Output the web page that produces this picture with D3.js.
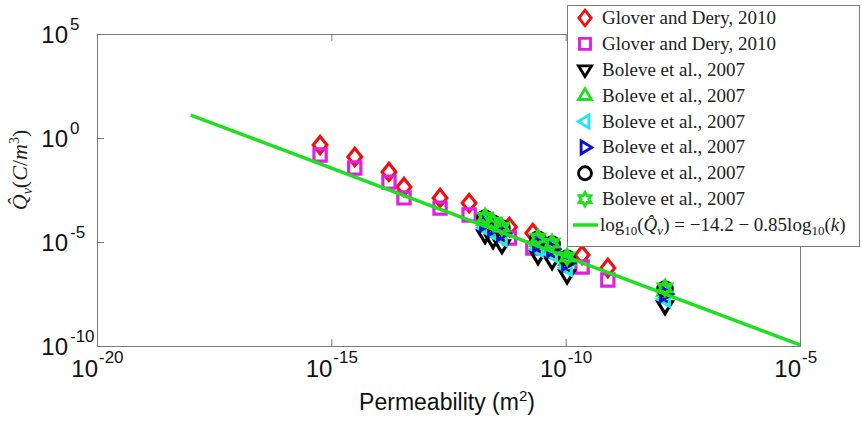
<!DOCTYPE html>
<html>
<head>
<meta charset="utf-8">
<script src="https://cdn.jsdelivr.net/npm/d3@7"></script>
<style>
  body { margin: 0; background: #fff; }
  svg { display: block; }
</style>
</head>
<body>
<div id="graphic"></div>
<script>
// log10 values
var kGlover = [-15.24, -14.5, -13.77, -13.45, -12.68, -12.06, -11.2, -10.7, -9.65, -9.1];
var qGloverDiamond = [-0.34, -0.91, -1.63, -2.36, -2.88, -3.13, -4.28, -4.57, -5.63, -6.25];
var qGloverSquare = [-0.82, -1.44, -2.12, -2.88, -3.37, -3.7, -4.81, -5.29, -6.2, -6.83];

var kBoleve = [-11.72, -11.55, -11.36, -10.59, -10.29, -9.97, -7.88];
var qBoleveDown = [-4.67, -4.91, -5.15, -5.68, -5.92, -6.6, -8.08];
var qBoleveUp = [-3.95, -4.19, -4.43, -4.96, -5.2, -5.87, -7.35];
var qBoleveLeft = [-4.33, -4.57, -4.81, -5.34, -5.58, -6.25, -7.74];
var qBoleveRight = [-4.1, -4.33, -4.57, -5.1, -5.34, -6.0, -7.5];
var qBoleveCircle = [-3.85, -4.09, -4.33, -4.86, -5.1, -5.77, -7.26];
var qBoleveHex = [-3.8, -4.04, -4.28, -4.81, -5.05, -5.72, -7.21];

// fit: log10(Q) = a + b log10(k)
var fitA = -14.2, fitB = -0.85;
var fitRange = [-18, -5];

var xTicks = [-20, -15, -10, -5];
var yTicks = [5, 0, -5, -10];

var legendLabels = ["Glover and Dery, 2010", "Glover and Dery, 2010",
  "Boleve et al., 2007", "Boleve et al., 2007", "Boleve et al., 2007",
  "Boleve et al., 2007", "Boleve et al., 2007", "Boleve et al., 2007"];

var width = 862, height = 421;
var margin = {left: 97, top: 34, right: 62, bottom: 75};
var sansFont = "'Liberation Sans', Arial, sans-serif";
var serifFont = "'Liberation Serif', 'Times New Roman', serif";

var svg = d3.select("#graphic").append("svg")
  .attr("width", width).attr("height", height);

var x = d3.scaleLog().domain([1e-20, 1e-5]).range([margin.left, width - margin.right]);
var y = d3.scaleLog().domain([1e-10, 1e5]).range([height - margin.bottom, margin.top]);

var axisCol = "#7a7a7a";

// box + inward ticks
function styleAxis(g) {
  g.selectAll("path.domain").attr("stroke", axisCol);
  g.selectAll("line").attr("stroke", axisCol);
  g.selectAll("text").remove();
}
svg.append("g").attr("transform", "translate(0," + y.range()[0] + ")")
  .call(d3.axisBottom(x).tickValues(xTicks.map(d => Math.pow(10, d))).tickSize(-7).tickSizeOuter(0))
  .call(styleAxis);
svg.append("g").attr("transform", "translate(0," + y.range()[1] + ")")
  .call(d3.axisTop(x).tickValues(xTicks.map(d => Math.pow(10, d))).tickSize(-7).tickSizeOuter(0))
  .call(styleAxis);
svg.append("g").attr("transform", "translate(" + x.range()[0] + ",0)")
  .call(d3.axisLeft(y).tickValues(yTicks.map(d => Math.pow(10, d))).tickSize(-7).tickSizeOuter(0))
  .call(styleAxis);
svg.append("g").attr("transform", "translate(" + x.range()[1] + ",0)")
  .call(d3.axisRight(y).tickValues(yTicks.map(d => Math.pow(10, d))).tickSize(-7).tickSizeOuter(0))
  .call(styleAxis);

// tick labels "10^n"
function tickText(px, py, anchor, size, txt) {
  svg.append("text").attr("x", px).attr("y", py).attr("text-anchor", anchor)
    .style("font-family", sansFont).style("font-size", size + "px").style("fill", "#111")
    .text(txt);
}
xTicks.forEach(function(t) {
  var px = x(Math.pow(10, t));
  tickText(px + 1, 377, "end", 24, "10");
  tickText(px + 2, 363, "start", 17, t < 0 ? "-" + (-t) : t);
});
yTicks.forEach(function(t) {
  var py = y(Math.pow(10, t));
  tickText(68, py + 9, "end", 24, "10");
  tickText(70, py - 4, "start", 17, t < 0 ? "-" + (-t) : t);
});

// x label
var xl = svg.append("text").attr("x", 447).attr("y", 410)
  .attr("text-anchor", "middle")
  .style("font-family", sansFont).style("font-size", "23px").style("fill", "#111");
xl.append("tspan").text("Permeability (m");
xl.append("tspan").attr("dy", -9).style("font-size", "15px").text("2");
xl.append("tspan").attr("dy", 9).text(")");

// y label
var yl = svg.append("text").attr("transform", "translate(27,170) rotate(-90)")
  .attr("text-anchor", "middle")
  .style("font-family", serifFont).style("font-size", "22px").style("fill", "#222");
yl.append("tspan").style("font-style", "italic").text("Q\u0302");
yl.append("tspan").attr("dy", 5).style("font-size", "14px").style("font-style", "italic").text("v");
yl.append("tspan").attr("dy", -5).text("(");
yl.append("tspan").style("font-style", "italic").text("C");
yl.append("tspan").text("/");
yl.append("tspan").style("font-style", "italic").text("m");
yl.append("tspan").attr("dy", -8).style("font-size", "14px").text("3");
yl.append("tspan").attr("dy", 8).text(")");

// marker shapes
var s = 7.2;
var shapes = {
  diamond: "M0," + (-s * 1.2) + "L" + (s * 0.95) + ",0L0," + (s * 1.2) + "L" + (-s * 0.95) + ",0Z",
  square: "M" + (-s * 0.85) + "," + (-s * 0.85) + "h" + (s * 1.7) + "v" + (s * 1.7) + "h" + (-s * 1.7) + "Z",
  down: "M" + (-s) + "," + (-s * 0.6) + "L" + s + "," + (-s * 0.6) + "L0," + (s * 1.05) + "Z",
  up: "M" + (-s) + "," + (s * 0.6) + "L" + s + "," + (s * 0.6) + "L0," + (-s * 1.05) + "Z",
  left: "M" + (s * 0.6) + "," + (-s) + "L" + (s * 0.6) + "," + s + "L" + (-s * 1.05) + ",0Z",
  right: "M" + (-s * 0.6) + "," + (-s) + "L" + (-s * 0.6) + "," + s + "L" + (s * 1.05) + ",0Z",
  circle: d3.symbol().type(d3.symbolCircle).size(Math.PI * s * s)(),
  hex: (function() {
    var pts = [];
    for (var i = 0; i < 12; i++) {
      var r = i % 2 ? s * 0.6 : s * 1.05, a = Math.PI / 2 + i * Math.PI / 6;
      pts.push([r * Math.cos(a), r * Math.sin(a)]);
    }
    return "M" + pts.join("L") + "Z";
  })()
};

var green = "#1fe01f";
var seriesList = [
  {k: kGlover, q: qGloverDiamond, shape: "diamond", color: "#ee1111"},
  {k: kGlover, q: qGloverSquare, shape: "square", color: "#e020e0"},
  {k: kBoleve, q: qBoleveDown, shape: "down", color: "#000000"},
  {k: kBoleve, q: qBoleveUp, shape: "up", color: green},
  {k: kBoleve, q: qBoleveLeft, shape: "left", color: "#22e8f0"},
  {k: kBoleve, q: qBoleveRight, shape: "right", color: "#1010d0"},
  {k: kBoleve, q: qBoleveCircle, shape: "circle", color: "#000000"},
  {k: kBoleve, q: qBoleveHex, shape: "hex", color: green}
];

seriesList.forEach(function(sr) {
  svg.append("g").selectAll("path")
    .data(d3.zip(sr.k, sr.q))
    .join("path")
    .attr("d", shapes[sr.shape])
    .attr("transform", d => "translate(" + x(Math.pow(10, d[0])) + "," + y(Math.pow(10, d[1])) + ")")
    .attr("fill", "none")
    .attr("stroke", sr.color)
    .attr("stroke-width", 3.2)
    .attr("stroke-linejoin", "miter");
});

// fit line
var line = d3.line()
  .x(d => x(Math.pow(10, d)))
  .y(d => y(Math.pow(10, fitA + fitB * d)));
svg.append("path").datum(fitRange).attr("d", line)
  .attr("fill", "none").attr("stroke", green).attr("stroke-width", 3.5);

// legend
var leg = svg.append("g");
leg.append("rect").attr("x", 567.5).attr("y", 5.5).attr("width", 292).attr("height", 241)
  .attr("fill", "#fff").attr("stroke", axisCol).attr("stroke-width", 1);
var rowY = d3.scaleLinear().domain([0, 8]).range([18, 225]);
function legText(px, py) {
  return leg.append("text").attr("x", px).attr("y", py)
    .style("font-family", serifFont).style("font-size", "19px").style("fill", "#222");
}
seriesList.forEach(function(sr, i) {
  leg.append("path").attr("d", shapes[sr.shape])
    .attr("transform", "translate(585," + rowY(i) + ") scale(0.9)")
    .attr("fill", "none").attr("stroke", sr.color).attr("stroke-width", 3.2);
  legText(602, rowY(i) + 6).text(legendLabels[i]);
});
leg.append("line").attr("x1", 573).attr("x2", 598).attr("y1", rowY(8)).attr("y2", rowY(8))
  .attr("stroke", green).attr("stroke-width", 3.5);
var ft = legText(600, rowY(8) + 6);
ft.append("tspan").text("log");
ft.append("tspan").attr("dy", 4).style("font-size", "13px").text("10");
ft.append("tspan").attr("dy", -4).text("(");
ft.append("tspan").style("font-style", "italic").text("Q\u0302");
ft.append("tspan").attr("dy", 4).style("font-size", "13px").style("font-style", "italic").text("v");
ft.append("tspan").attr("dy", -4).text(") = \u221214.2 \u2212 0.85log");
ft.append("tspan").attr("dy", 4).style("font-size", "13px").text("10");
ft.append("tspan").attr("dy", -4).text("(");
ft.append("tspan").style("font-style", "italic").text("k");
ft.append("tspan").text(")");
</script>
</body>
</html>
